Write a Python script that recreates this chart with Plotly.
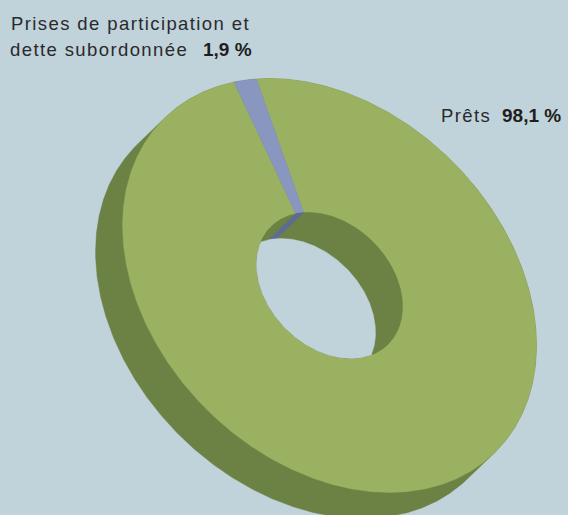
import numpy as np
import plotly.graph_objects as go

# Portfolio breakdown, in percent
categories = ["Prêts", "Prises de participation et dette subordonnée"]
shares = [98.1, 1.9]

# Page size and tilted-ring projection, in canvas pixels
WIDTH, HEIGHT = 568, 515
CENTER = np.array([329.5, 285.5])
MAJOR, MINOR = 235.0, 174.5
HOLE_RATIO = 0.353
TILT = np.radians(45)
DEPTH = np.array([-27.0, 26.0])
START_DEG = 154.1  # angle where the first category begins

BG = "#c0d2da"
GREEN = "#9ab161"
GREEN_DARK = "#6c8245"
BLUE = "#8896c0"
BLUE_DARK = "#5f6b93"
TEXT = "#2a2a2c"


def ring_point(deg, ratio=1.0, offset=(0.0, 0.0)):
    """Project an angle on the flat ring to canvas coordinates."""
    t = np.radians(deg)
    u = ratio * MAJOR * np.cos(t)
    v = ratio * MINOR * np.sin(t)
    x = CENTER[0] + u * np.cos(TILT) + v * np.sin(TILT) + offset[0]
    y = CENTER[1] + u * np.sin(TILT) - v * np.cos(TILT) + offset[1]
    return np.column_stack([x, y])


def hull(points):
    """Convex hull by the monotone chain method."""
    pts = sorted(map(tuple, points))

    def half(seq):
        out = []
        for p in seq:
            while len(out) > 1 and (
                (out[-1][0] - out[-2][0]) * (p[1] - out[-2][1])
                - (out[-1][1] - out[-2][1]) * (p[0] - out[-2][0])
            ) <= 0:
                out.pop()
            out.append(p)
        return out[:-1]

    return np.array(half(pts) + half(pts[::-1]))


def inside_ellipse(points, ratio, offset):
    d = points - CENTER - np.asarray(offset)
    u = d[:, 0] * np.cos(TILT) + d[:, 1] * np.sin(TILT)
    v = d[:, 0] * np.sin(TILT) - d[:, 1] * np.cos(TILT)
    return (u / (ratio * MAJOR)) ** 2 + (v / (ratio * MINOR)) ** 2 <= 1


def polygon(points, color, name):
    closed = np.vstack([points, points[:1]])
    return go.Scatter(
        x=closed[:, 0], y=closed[:, 1], mode="lines", fill="toself",
        fillcolor=color, line=dict(color=color, width=0.4), name=name,
        hoverinfo="skip", showlegend=False,
    )


full = np.linspace(0, 360, 721)[:-1]
traces = []

# Outer side wall: silhouette of the top rim swept along the depth
outer_top = ring_point(full)
outer_bottom = ring_point(full, offset=DEPTH)
traces.append(polygon(hull(np.vstack([outer_top, outer_bottom])), GREEN_DARK, "outer wall"))

# Top face, one annular sector per category
face_colors = [GREEN, BLUE]
wall_colors = [GREEN_DARK, BLUE_DARK]
spans = []
start = START_DEG
for name, share, color in zip(categories, shares, face_colors):
    sweep = share * 3.6
    arc = np.linspace(start, start + sweep, max(int(sweep * 2), 8))
    spans.append(arc)
    sector = np.vstack([ring_point(arc), ring_point(arc[::-1], HOLE_RATIO)])
    traces.append(polygon(sector, color, name))
    start += sweep

# Inner wall seen through the hole
traces.append(polygon(ring_point(full, HOLE_RATIO), GREEN_DARK, "inner wall"))
for arc, color, name in zip(spans, wall_colors, categories):
    if len(arc) < 100:
        quad = np.vstack([ring_point(arc, HOLE_RATIO), ring_point(arc[::-1], HOLE_RATIO, DEPTH)])
        traces.append(polygon(quad, color, name + " wall"))

# See-through part: overlap of the hole's top and bottom rims
hole_top = ring_point(full, HOLE_RATIO)
hole_bottom = ring_point(full, HOLE_RATIO, DEPTH)
opening = np.vstack([
    hole_top[inside_ellipse(hole_top, HOLE_RATIO, DEPTH)],
    hole_bottom[inside_ellipse(hole_bottom, HOLE_RATIO, (0, 0))],
])
traces.append(polygon(hull(opening), BG, "opening"))

fig = go.Figure(traces)


def percent(value):
    return f"{value:.1f}".replace(".", ",") + " %"


def label(text, x, y, bold=False):
    markup = (
        f"<b>{text}</b>" if bold
        else f'<span style="letter-spacing:1.4px">{text}</span>'
    )
    fig.add_annotation(
        x=x, y=y, text=markup, showarrow=False,
        xanchor="left", yanchor="middle", align="left",
        font=dict(
            family="Liberation Sans",
            size=19 if bold else 18.5,
            color="#1e1e20" if bold else TEXT,
        ),
    )


first_line = "Prises de participation et"
second_line = categories[1][len(first_line) + 1:]
label(first_line, 9, 23)
label(second_line, 8, 49)
label(percent(shares[1]), 201, 49, bold=True)
label(categories[0], 439, 115)
label(percent(shares[0]), 500, 115, bold=True)

fig.update_layout(
    width=WIDTH, height=HEIGHT, margin=dict(l=0, r=0, t=0, b=0),
    paper_bgcolor=BG, plot_bgcolor=BG, showlegend=False,
    xaxis=dict(range=[0, WIDTH], visible=False, fixedrange=True),
    yaxis=dict(range=[HEIGHT, 0], visible=False, fixedrange=True),
)
fig.write_html("out.html", config={"displayModeBar": False})
